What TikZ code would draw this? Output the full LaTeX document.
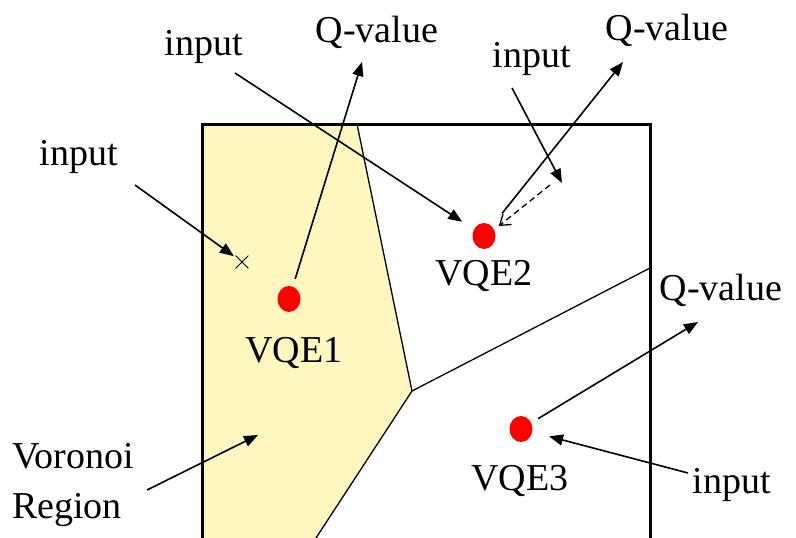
\documentclass[tikz,border=0pt]{standalone}
\usepackage{fontspec}
\setmainfont{Liberation Serif}
\usetikzlibrary{arrows.meta,shapes.geometric,shapes.misc,calc}
\definecolor{voronoi}{RGB}{255,246,192}
\definecolor{vqered}{RGB}{255,0,0}

\begin{document}
\begin{tikzpicture}[x=1pt,y=-1pt,
    lbl/.style={font=\fontsize{38}{40}\selectfont,inner sep=0pt,anchor=base},
    vqe/.style={ellipse,fill=vqered,minimum width=23pt,minimum height=26pt,inner sep=0pt},
    arr/.style={line width=1.6pt,-{Triangle[length=14pt,width=11pt]}},
    cell/.style={line width=1.3pt}]
    \useasboundingbox (0,0) rectangle (796,538);
    % Voronoi region of VQE1 and cell borders
    \fill[voronoi] (202,124) -- (357,124) -- (412,391) -- (316,538) -- (202,538) -- cycle;
    \draw[cell] (357,124) -- (412,391) -- (316,538);
    \draw[cell] (412,391) -- (650,268);
    \draw[line width=3pt] (202,538) -- (202,124) -- (650,124) -- (650,538);
    % units
    \node[vqe] (vqe1) at (289,299) {};
    \node[vqe] (vqe2) at (484,236) {};
    \node[vqe] (vqe3) at (521,429) {};
    \node[draw,cross out,line width=0.8pt,minimum size=12pt,inner sep=0pt] (x1) at (242,262) {};
    \node[lbl] (vqe1lbl) at (294,362) {VQE1};
    \node[lbl] (vqe2lbl) at (484,285) {VQE2};
    \node[lbl] (vqe3lbl) at (520,490) {VQE3};
    % labels
    \node[lbl] (in1) at (204,55) {input};
    \node[lbl] (in2) at (532,67) {input};
    \node[lbl] (in3) at (79,165) {input};
    \node[lbl] (in4) at (732,493) {input};
    \node[lbl] (qv1) at (377,42) {Q-value};
    \node[lbl] (qv2) at (667,40) {Q-value};
    \node[lbl] (qv3) at (721,300) {Q-value};
    \node[lbl,anchor=base west] (vor) at (12,468) {Voronoi};
    \node[lbl,anchor=base west] (reg) at (12,518) {Region};
    % arrow ends
    \coordinate (in1s) at (235,73);
    \coordinate (in2s) at (512,88);
    \coordinate (in2t) at (562,183);
    \coordinate (in3s) at (135,185);
    \coordinate (in4s) at (688,473);
    \coordinate (qv1t) at (362,62);
    \coordinate (qv2t) at (623,62);
    \coordinate (qv3t) at (698,322);
    \coordinate (regs) at (147,490);
    \coordinate (regt) at (258,435);
    \coordinate (in2d) at ($(vqe2)!19pt!(in2t)$);
    % arrows
    \draw[arr] (in1s) -- ($(vqe2)!26pt!(in1s)$);
    \draw[arr] (in3s) -- ($(x1)!10pt!(in3s)$);
    \draw[arr] (in2s) -- (in2t);
    \draw[line width=1.3pt,dash pattern=on 6pt off 4pt] ($(in2t)+(-12,2)$) -- (in2d);
    \draw[line width=1.3pt] ($(in2d)!12pt!-35:($(in2t)+(-12,2)$)$) -- (in2d) -- ($(in2d)!12pt!35:($(in2t)+(-12,2)$)$);
    \draw[arr] (in4s) -- ($(vqe3)!29pt!(in4s)$);
    \draw[arr] ($(vqe1)!21pt!(qv1t)$) -- (qv1t);
    \draw[arr] ($(vqe2)!29pt!(qv2t)$) -- (qv2t);
    \draw[arr] ($(vqe3)!20pt!(qv3t)$) -- (qv3t);
    \draw[arr] (regs) -- (regt);
\end{tikzpicture}
\end{document}
